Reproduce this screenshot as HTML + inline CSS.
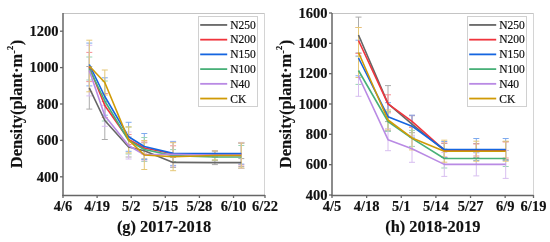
<!DOCTYPE html>
<html><head><meta charset="utf-8"><title>Density chart</title>
<style>html,body{margin:0;padding:0;background:#fff;overflow:hidden}svg{display:block;will-change:transform}</style>
</head><body>
<svg width="550" height="242" viewBox="0 0 550 242">
<style>
text{font-family:"Liberation Serif", serif;fill:#111}
.yl,.xl,.cap,.yt{stroke:#111;stroke-width:0.15px}
.yl{font-size:14.5px;font-weight:bold}
.xl{font-size:14.5px;font-weight:bold}
.cap{font-size:16.4px;font-weight:bold}
.yt{font-size:16.5px;font-weight:bold}
.lg{font-size:12.4px;stroke:#111;stroke-width:0.2px}
</style>
<rect width="550" height="242" fill="#fff"/>
<line x1="63" y1="13.5" x2="265" y2="13.5" stroke="#c4c4c4" stroke-width="1"/>
<line x1="264.5" y1="13" x2="264.5" y2="195" stroke="#d4d4d4" stroke-width="1"/>
<path d="M89.3 66.5V109.1M86.3 66.5H92.3M86.3 109.1H92.3" stroke="#ababab" stroke-width="1" fill="none"/>
<path d="M104.8 101.5V139.5M101.8 101.5H107.8M101.8 139.5H107.8" stroke="#ababab" stroke-width="1" fill="none"/>
<path d="M128.6 137V157M125.6 137H131.6M125.6 157H131.6" stroke="#ababab" stroke-width="1" fill="none"/>
<path d="M144.3 142.8V158.8M141.3 142.8H147.3M141.3 158.8H147.3" stroke="#ababab" stroke-width="1" fill="none"/>
<path d="M173.1 157.4V167.4M170.1 157.4H176.1M170.1 167.4H176.1" stroke="#ababab" stroke-width="1" fill="none"/>
<path d="M214.9 160.6V164.6M211.9 160.6H217.9M211.9 164.6H217.9" stroke="#ababab" stroke-width="1" fill="none"/>
<path d="M241.3 158.6V166.6M238.3 158.6H244.3M238.3 166.6H244.3" stroke="#ababab" stroke-width="1" fill="none"/>
<path d="M89.3 52.4V81.6M86.3 52.4H92.3M86.3 81.6H92.3" stroke="#f78f94" stroke-width="1" fill="none"/>
<path d="M104.8 93.5V117.5M101.8 93.5H107.8M101.8 117.5H107.8" stroke="#f78f94" stroke-width="1" fill="none"/>
<path d="M128.6 134.5V144.5M125.6 134.5H131.6M125.6 144.5H131.6" stroke="#f78f94" stroke-width="1" fill="none"/>
<path d="M144.3 142V154M141.3 142H147.3M141.3 154H147.3" stroke="#f78f94" stroke-width="1" fill="none"/>
<path d="M173.1 145.8V161.8M170.1 145.8H176.1M170.1 161.8H176.1" stroke="#f78f94" stroke-width="1" fill="none"/>
<path d="M214.9 150.9V156.9M211.9 150.9H217.9M211.9 156.9H217.9" stroke="#f78f94" stroke-width="1" fill="none"/>
<path d="M241.3 142.9V164.9M238.3 142.9H244.3M238.3 164.9H244.3" stroke="#f78f94" stroke-width="1" fill="none"/>
<path d="M89.3 43.1V85.9M86.3 43.1H92.3M86.3 85.9H92.3" stroke="#7eaaee" stroke-width="1" fill="none"/>
<path d="M104.8 77.8V115.2M101.8 77.8H107.8M101.8 115.2H107.8" stroke="#7eaaee" stroke-width="1" fill="none"/>
<path d="M128.6 122.3V151.3M125.6 122.3H131.6M125.6 151.3H131.6" stroke="#7eaaee" stroke-width="1" fill="none"/>
<path d="M144.3 133.5V159.5M141.3 133.5H147.3M141.3 159.5H147.3" stroke="#7eaaee" stroke-width="1" fill="none"/>
<path d="M173.1 141.4V165.4M170.1 141.4H176.1M170.1 165.4H176.1" stroke="#7eaaee" stroke-width="1" fill="none"/>
<path d="M214.9 151.1V156.1M211.9 151.1H217.9M211.9 156.1H217.9" stroke="#7eaaee" stroke-width="1" fill="none"/>
<path d="M241.3 143.1V164.1M238.3 143.1H244.3M238.3 164.1H244.3" stroke="#7eaaee" stroke-width="1" fill="none"/>
<path d="M89.3 57V80M86.3 57H92.3M86.3 80H92.3" stroke="#9ad4b5" stroke-width="1" fill="none"/>
<path d="M104.8 81V121M101.8 81H107.8M101.8 121H107.8" stroke="#9ad4b5" stroke-width="1" fill="none"/>
<path d="M128.6 127V154M125.6 127H131.6M125.6 154H131.6" stroke="#9ad4b5" stroke-width="1" fill="none"/>
<path d="M144.3 137.5V161.5M141.3 137.5H147.3M141.3 161.5H147.3" stroke="#9ad4b5" stroke-width="1" fill="none"/>
<path d="M173.1 149.6V161.6M170.1 149.6H176.1M170.1 161.6H176.1" stroke="#9ad4b5" stroke-width="1" fill="none"/>
<path d="M214.9 154V160M211.9 154H217.9M211.9 160H217.9" stroke="#9ad4b5" stroke-width="1" fill="none"/>
<path d="M241.3 145.5V168.5M238.3 145.5H244.3M238.3 168.5H244.3" stroke="#9ad4b5" stroke-width="1" fill="none"/>
<path d="M89.3 45.3V95.9M86.3 45.3H92.3M86.3 95.9H92.3" stroke="#d8bff0" stroke-width="1" fill="none"/>
<path d="M104.8 105.3V126.3M101.8 105.3H107.8M101.8 126.3H107.8" stroke="#d8bff0" stroke-width="1" fill="none"/>
<path d="M128.6 132V159M125.6 132H131.6M125.6 159H131.6" stroke="#d8bff0" stroke-width="1" fill="none"/>
<path d="M144.3 148.8V160.8M141.3 148.8H147.3M141.3 160.8H147.3" stroke="#d8bff0" stroke-width="1" fill="none"/>
<path d="M173.1 142.3V166.3M170.1 142.3H176.1M170.1 166.3H176.1" stroke="#d8bff0" stroke-width="1" fill="none"/>
<path d="M214.9 153.3V157.3M211.9 153.3H217.9M211.9 157.3H217.9" stroke="#d8bff0" stroke-width="1" fill="none"/>
<path d="M241.3 142.4V168.4M238.3 142.4H244.3M238.3 168.4H244.3" stroke="#d8bff0" stroke-width="1" fill="none"/>
<path d="M89.3 40.2V91.8M86.3 40.2H92.3M86.3 91.8H92.3" stroke="#e5c776" stroke-width="1" fill="none"/>
<path d="M104.8 70V95M101.8 70H107.8M101.8 95H107.8" stroke="#e5c776" stroke-width="1" fill="none"/>
<path d="M128.6 126.9V152.9M125.6 126.9H131.6M125.6 152.9H131.6" stroke="#e5c776" stroke-width="1" fill="none"/>
<path d="M144.3 140.5V169.5M141.3 140.5H147.3M141.3 169.5H147.3" stroke="#e5c776" stroke-width="1" fill="none"/>
<path d="M173.1 142.7V170.7M170.1 142.7H176.1M170.1 170.7H176.1" stroke="#e5c776" stroke-width="1" fill="none"/>
<path d="M214.9 151V160M211.9 151H217.9M211.9 160H217.9" stroke="#e5c776" stroke-width="1" fill="none"/>
<path d="M241.3 143V168M238.3 143H244.3M238.3 168H244.3" stroke="#e5c776" stroke-width="1" fill="none"/>
<polyline points="89.3,87.8 104.8,120.5 128.6,147 144.3,150.8 173.1,162.4 214.9,162.6 241.3,162.6" stroke="#666666" stroke-width="1.6" fill="none" stroke-linejoin="round"/>
<polyline points="89.3,67 104.8,105.5 128.6,139.5 144.3,148 173.1,153.8 214.9,153.9 241.3,153.9" stroke="#f0343c" stroke-width="1.6" fill="none" stroke-linejoin="round"/>
<polyline points="89.3,64.5 104.8,96.5 128.6,136.8 144.3,146.5 173.1,153.4 214.9,153.6 241.3,153.6" stroke="#1565e0" stroke-width="1.6" fill="none" stroke-linejoin="round"/>
<polyline points="89.3,68.5 104.8,101 128.6,140.5 144.3,149.5 173.1,155.6 214.9,157 241.3,157" stroke="#48b078" stroke-width="1.6" fill="none" stroke-linejoin="round"/>
<polyline points="89.3,70.6 104.8,115.8 128.6,145.5 144.3,154.8 173.1,154.3 214.9,155.3 241.3,155.4" stroke="#b98ae4" stroke-width="1.6" fill="none" stroke-linejoin="round"/>
<polyline points="89.3,66 104.8,82.5 128.6,139.9 144.3,155 173.1,156.7 214.9,155.5 241.3,155.5" stroke="#d09a06" stroke-width="1.6" fill="none" stroke-linejoin="round"/>
<line x1="63" y1="13" x2="63" y2="195.7" stroke="#666" stroke-width="1.5"/>
<line x1="62.3" y1="195.4" x2="265" y2="195.4" stroke="#666" stroke-width="1.5"/>
<line x1="60" y1="176.8" x2="63" y2="176.8" stroke="#666" stroke-width="1.3"/>
<text x="58.6" y="181.6" text-anchor="end" class="yl">400</text>
<line x1="60" y1="140.4" x2="63" y2="140.4" stroke="#666" stroke-width="1.3"/>
<text x="58.6" y="145.2" text-anchor="end" class="yl">600</text>
<line x1="60" y1="104" x2="63" y2="104" stroke="#666" stroke-width="1.3"/>
<text x="58.6" y="108.8" text-anchor="end" class="yl">800</text>
<line x1="60" y1="67.6" x2="63" y2="67.6" stroke="#666" stroke-width="1.3"/>
<text x="58.6" y="72.4" text-anchor="end" class="yl">1000</text>
<line x1="60" y1="31.2" x2="63" y2="31.2" stroke="#666" stroke-width="1.3"/>
<text x="58.6" y="36" text-anchor="end" class="yl">1200</text>
<line x1="63" y1="195" x2="63" y2="198" stroke="#666" stroke-width="1.3"/>
<text x="63" y="211" text-anchor="middle" class="xl">4/6</text>
<line x1="97.1" y1="195" x2="97.1" y2="198" stroke="#666" stroke-width="1.3"/>
<text x="97.1" y="211" text-anchor="middle" class="xl">4/19</text>
<line x1="131.21" y1="195" x2="131.21" y2="198" stroke="#666" stroke-width="1.3"/>
<text x="131.21" y="211" text-anchor="middle" class="xl">5/2</text>
<line x1="165.31" y1="195" x2="165.31" y2="198" stroke="#666" stroke-width="1.3"/>
<text x="165.31" y="211" text-anchor="middle" class="xl">5/15</text>
<line x1="199.42" y1="195" x2="199.42" y2="198" stroke="#666" stroke-width="1.3"/>
<text x="199.42" y="211" text-anchor="middle" class="xl">5/28</text>
<line x1="233.52" y1="195" x2="233.52" y2="198" stroke="#666" stroke-width="1.3"/>
<text x="233.52" y="211" text-anchor="middle" class="xl">6/10</text>
<line x1="265" y1="195" x2="265" y2="198" stroke="#666" stroke-width="1.3"/>
<text x="265" y="211" text-anchor="middle" class="xl">6/22</text>
<text x="164" y="232" text-anchor="middle" class="cap">(g) 2017-2018</text>
<text transform="translate(21.5,104) rotate(-90)" text-anchor="middle" class="yt">Density(plant·m<tspan dy="-5" font-size="11">-</tspan><tspan dy="-3.5" font-size="8.5">2</tspan><tspan dy="8.5" dx="0.5">)</tspan></text>
<rect x="198.5" y="16.5" width="59" height="90" fill="#fff" stroke="#d0d0d0" stroke-width="1"/>
<line x1="200.2" y1="24.95" x2="227.2" y2="24.95" stroke="#666666" stroke-width="1.8"/>
<text transform="translate(230.2,28.5) scale(0.93,1)" class="lg">N250</text>
<line x1="200.2" y1="39.67" x2="227.2" y2="39.67" stroke="#f0343c" stroke-width="1.8"/>
<text transform="translate(230.2,43.3) scale(0.93,1)" class="lg">N200</text>
<line x1="200.2" y1="54.39" x2="227.2" y2="54.39" stroke="#1565e0" stroke-width="1.8"/>
<text transform="translate(230.2,58.1) scale(0.93,1)" class="lg">N150</text>
<line x1="200.2" y1="69.11" x2="227.2" y2="69.11" stroke="#48b078" stroke-width="1.8"/>
<text transform="translate(230.2,72.9) scale(0.93,1)" class="lg">N100</text>
<line x1="200.2" y1="83.83" x2="227.2" y2="83.83" stroke="#b98ae4" stroke-width="1.8"/>
<text transform="translate(230.2,87.7) scale(0.93,1)" class="lg">N40</text>
<line x1="200.2" y1="98.55" x2="227.2" y2="98.55" stroke="#d09a06" stroke-width="1.8"/>
<text transform="translate(230.2,102.5) scale(0.93,1)" class="lg">CK</text>
<line x1="332" y1="13.5" x2="534" y2="13.5" stroke="#c4c4c4" stroke-width="1"/>
<line x1="533.5" y1="13" x2="533.5" y2="195" stroke="#d4d4d4" stroke-width="1"/>
<path d="M358.5 17.1V52.9M355.5 17.1H361.5M355.5 52.9H361.5" stroke="#ababab" stroke-width="1" fill="none"/>
<path d="M388 85.6V121.6M385 85.6H391M385 121.6H391" stroke="#ababab" stroke-width="1" fill="none"/>
<path d="M412 115.7V132.7M409 115.7H415M409 132.7H415" stroke="#ababab" stroke-width="1" fill="none"/>
<path d="M444.3 143.5V157.5M441.3 143.5H447.3M441.3 157.5H447.3" stroke="#ababab" stroke-width="1" fill="none"/>
<path d="M476.3 143.5V157.5M473.3 143.5H479.3M473.3 157.5H479.3" stroke="#ababab" stroke-width="1" fill="none"/>
<path d="M505.7 141.5V159.5M502.7 141.5H508.7M502.7 159.5H508.7" stroke="#ababab" stroke-width="1" fill="none"/>
<path d="M358.5 27.5V53.5M355.5 27.5H361.5M355.5 53.5H361.5" stroke="#f78f94" stroke-width="1" fill="none"/>
<path d="M388 94.8V112.8M385 94.8H391M385 112.8H391" stroke="#f78f94" stroke-width="1" fill="none"/>
<path d="M412 115.4V127.4M409 115.4H415M409 127.4H415" stroke="#f78f94" stroke-width="1" fill="none"/>
<path d="M444.3 143V157M441.3 143H447.3M441.3 157H447.3" stroke="#f78f94" stroke-width="1" fill="none"/>
<path d="M476.3 144V156M473.3 144H479.3M473.3 156H479.3" stroke="#f78f94" stroke-width="1" fill="none"/>
<path d="M505.7 142V158M502.7 142H508.7M502.7 158H508.7" stroke="#f78f94" stroke-width="1" fill="none"/>
<path d="M358.5 40.2V75.8M355.5 40.2H361.5M355.5 75.8H361.5" stroke="#7eaaee" stroke-width="1" fill="none"/>
<path d="M388 102.7V130.7M385 102.7H391M385 130.7H391" stroke="#7eaaee" stroke-width="1" fill="none"/>
<path d="M412 115.2V137.2M409 115.2H415M409 137.2H415" stroke="#7eaaee" stroke-width="1" fill="none"/>
<path d="M444.3 141.5V157.5M441.3 141.5H447.3M441.3 157.5H447.3" stroke="#7eaaee" stroke-width="1" fill="none"/>
<path d="M476.3 138.5V160.5M473.3 138.5H479.3M473.3 160.5H479.3" stroke="#7eaaee" stroke-width="1" fill="none"/>
<path d="M505.7 138.5V160.5M502.7 138.5H508.7M502.7 160.5H508.7" stroke="#7eaaee" stroke-width="1" fill="none"/>
<path d="M358.5 56.6V84.4M355.5 56.6H361.5M355.5 84.4H361.5" stroke="#9ad4b5" stroke-width="1" fill="none"/>
<path d="M388 111.5V131.5M385 111.5H391M385 131.5H391" stroke="#9ad4b5" stroke-width="1" fill="none"/>
<path d="M412 130.4V146.4M409 130.4H415M409 146.4H415" stroke="#9ad4b5" stroke-width="1" fill="none"/>
<path d="M444.3 149V168M441.3 149H447.3M441.3 168H447.3" stroke="#9ad4b5" stroke-width="1" fill="none"/>
<path d="M476.3 152.5V164.5M473.3 152.5H479.3M473.3 164.5H479.3" stroke="#9ad4b5" stroke-width="1" fill="none"/>
<path d="M505.7 150.5V166.5M502.7 150.5H508.7M502.7 166.5H508.7" stroke="#9ad4b5" stroke-width="1" fill="none"/>
<path d="M358.5 55.7V96.3M355.5 55.7H361.5M355.5 96.3H361.5" stroke="#d8bff0" stroke-width="1" fill="none"/>
<path d="M388 128.7V150.7M385 128.7H391M385 150.7H391" stroke="#d8bff0" stroke-width="1" fill="none"/>
<path d="M412 135.3V162.3M409 135.3H415M409 162.3H415" stroke="#d8bff0" stroke-width="1" fill="none"/>
<path d="M444.3 152.4V176.4M441.3 152.4H447.3M441.3 176.4H447.3" stroke="#d8bff0" stroke-width="1" fill="none"/>
<path d="M476.3 152.9V175.9M473.3 152.9H479.3M473.3 175.9H479.3" stroke="#d8bff0" stroke-width="1" fill="none"/>
<path d="M505.7 150.4V178.4M502.7 150.4H508.7M502.7 178.4H508.7" stroke="#d8bff0" stroke-width="1" fill="none"/>
<path d="M358.5 27.5V77.5M355.5 27.5H361.5M355.5 77.5H361.5" stroke="#e5c776" stroke-width="1" fill="none"/>
<path d="M388 110V130M385 110H391M385 130H391" stroke="#e5c776" stroke-width="1" fill="none"/>
<path d="M412 125.9V149.9M409 125.9H415M409 149.9H415" stroke="#e5c776" stroke-width="1" fill="none"/>
<path d="M444.3 140.2V162.2M441.3 140.2H447.3M441.3 162.2H447.3" stroke="#e5c776" stroke-width="1" fill="none"/>
<path d="M476.3 141.2V161.2M473.3 141.2H479.3M473.3 161.2H479.3" stroke="#e5c776" stroke-width="1" fill="none"/>
<path d="M505.7 141.2V161.2M502.7 141.2H508.7M502.7 161.2H508.7" stroke="#e5c776" stroke-width="1" fill="none"/>
<polyline points="358.5,35 388,103.6 412,124.2 444.3,150.5 476.3,150.5 505.7,150.5" stroke="#666666" stroke-width="1.6" fill="none" stroke-linejoin="round"/>
<polyline points="358.5,40.5 388,103.8 412,121.4 444.3,150 476.3,150 505.7,150" stroke="#f0343c" stroke-width="1.6" fill="none" stroke-linejoin="round"/>
<polyline points="358.5,58 388,116.7 412,126.2 444.3,149.5 476.3,149.5 505.7,149.5" stroke="#1565e0" stroke-width="1.6" fill="none" stroke-linejoin="round"/>
<polyline points="358.5,70.5 388,121.5 412,138.4 444.3,158.5 476.3,158.5 505.7,158.5" stroke="#48b078" stroke-width="1.6" fill="none" stroke-linejoin="round"/>
<polyline points="358.5,76 388,139.7 412,148.8 444.3,164.4 476.3,164.4 505.7,164.4" stroke="#b98ae4" stroke-width="1.6" fill="none" stroke-linejoin="round"/>
<polyline points="358.5,52.5 388,120 412,137.9 444.3,151.2 476.3,151.2 505.7,151.2" stroke="#d09a06" stroke-width="1.6" fill="none" stroke-linejoin="round"/>
<line x1="332" y1="13" x2="332" y2="195.7" stroke="#666" stroke-width="1.5"/>
<line x1="331.3" y1="195.4" x2="533.5" y2="195.4" stroke="#666" stroke-width="1.5"/>
<line x1="329" y1="195" x2="332" y2="195" stroke="#666" stroke-width="1.3"/>
<text x="327.6" y="199.8" text-anchor="end" class="yl">400</text>
<line x1="329" y1="164.67" x2="332" y2="164.67" stroke="#666" stroke-width="1.3"/>
<text x="327.6" y="169.47" text-anchor="end" class="yl">600</text>
<line x1="329" y1="134.33" x2="332" y2="134.33" stroke="#666" stroke-width="1.3"/>
<text x="327.6" y="139.13" text-anchor="end" class="yl">800</text>
<line x1="329" y1="104" x2="332" y2="104" stroke="#666" stroke-width="1.3"/>
<text x="327.6" y="108.8" text-anchor="end" class="yl">1000</text>
<line x1="329" y1="73.67" x2="332" y2="73.67" stroke="#666" stroke-width="1.3"/>
<text x="327.6" y="78.47" text-anchor="end" class="yl">1200</text>
<line x1="329" y1="43.33" x2="332" y2="43.33" stroke="#666" stroke-width="1.3"/>
<text x="327.6" y="48.13" text-anchor="end" class="yl">1400</text>
<line x1="329" y1="13" x2="332" y2="13" stroke="#666" stroke-width="1.3"/>
<text x="327.6" y="17.8" text-anchor="end" class="yl">1600</text>
<line x1="332" y1="195" x2="332" y2="198" stroke="#666" stroke-width="1.3"/>
<text x="332" y="211" text-anchor="middle" class="xl">4/5</text>
<line x1="366.63" y1="195" x2="366.63" y2="198" stroke="#666" stroke-width="1.3"/>
<text x="366.63" y="211" text-anchor="middle" class="xl">4/18</text>
<line x1="401.26" y1="195" x2="401.26" y2="198" stroke="#666" stroke-width="1.3"/>
<text x="401.26" y="211" text-anchor="middle" class="xl">5/1</text>
<line x1="435.9" y1="195" x2="435.9" y2="198" stroke="#666" stroke-width="1.3"/>
<text x="435.9" y="211" text-anchor="middle" class="xl">5/14</text>
<line x1="470.53" y1="195" x2="470.53" y2="198" stroke="#666" stroke-width="1.3"/>
<text x="470.53" y="211" text-anchor="middle" class="xl">5/27</text>
<line x1="505.16" y1="195" x2="505.16" y2="198" stroke="#666" stroke-width="1.3"/>
<text x="505.16" y="211" text-anchor="middle" class="xl">6/9</text>
<line x1="533.5" y1="195" x2="533.5" y2="198" stroke="#666" stroke-width="1.3"/>
<text x="533.5" y="211" text-anchor="middle" class="xl">6/19</text>
<text x="432.75" y="232" text-anchor="middle" class="cap">(h) 2018-2019</text>
<text transform="translate(290.5,104) rotate(-90)" text-anchor="middle" class="yt">Density(plant·m<tspan dy="-5" font-size="11">-</tspan><tspan dy="-3.5" font-size="8.5">2</tspan><tspan dy="8.5" dx="0.5">)</tspan></text>
<rect x="467.5" y="16.5" width="59" height="90" fill="#fff" stroke="#d0d0d0" stroke-width="1"/>
<line x1="469.2" y1="24.95" x2="496.2" y2="24.95" stroke="#666666" stroke-width="1.8"/>
<text transform="translate(499.2,28.5) scale(0.93,1)" class="lg">N250</text>
<line x1="469.2" y1="39.67" x2="496.2" y2="39.67" stroke="#f0343c" stroke-width="1.8"/>
<text transform="translate(499.2,43.3) scale(0.93,1)" class="lg">N200</text>
<line x1="469.2" y1="54.39" x2="496.2" y2="54.39" stroke="#1565e0" stroke-width="1.8"/>
<text transform="translate(499.2,58.1) scale(0.93,1)" class="lg">N150</text>
<line x1="469.2" y1="69.11" x2="496.2" y2="69.11" stroke="#48b078" stroke-width="1.8"/>
<text transform="translate(499.2,72.9) scale(0.93,1)" class="lg">N100</text>
<line x1="469.2" y1="83.83" x2="496.2" y2="83.83" stroke="#b98ae4" stroke-width="1.8"/>
<text transform="translate(499.2,87.7) scale(0.93,1)" class="lg">N40</text>
<line x1="469.2" y1="98.55" x2="496.2" y2="98.55" stroke="#d09a06" stroke-width="1.8"/>
<text transform="translate(499.2,102.5) scale(0.93,1)" class="lg">CK</text>
</svg>
</body></html>
